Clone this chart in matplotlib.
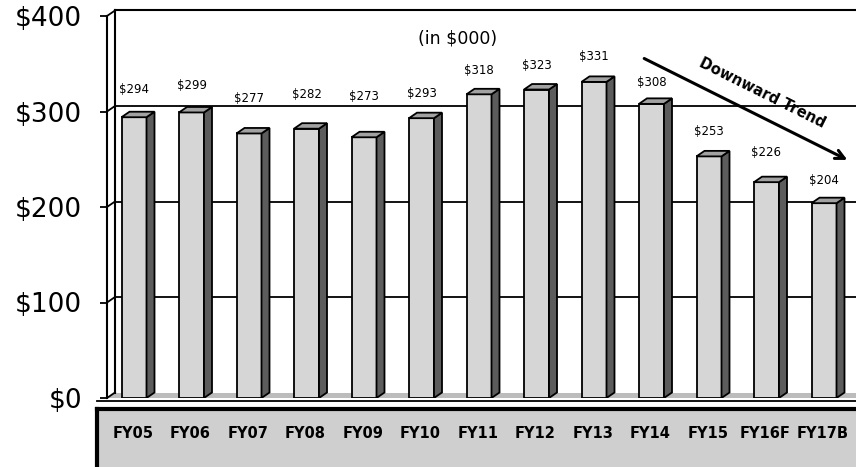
import matplotlib.pyplot as plt
from matplotlib.patches import Polygon, Rectangle

# yearly totals, in $000
years = ['FY05', 'FY06', 'FY07', 'FY08', 'FY09', 'FY10', 'FY11',
         'FY12', 'FY13', 'FY14', 'FY15', 'FY16F', 'FY17B']
totals = [294, 299, 277, 282, 273, 293, 318, 323, 331, 308, 253, 226, 204]
# how far (px) each value label floats above its bar
label_lift = [28, 27, 35, 34, 41, 25, 24, 24, 25, 21, 25, 30, 23]
yticks = [0, 100, 200, 300, 400]

W, H = 856, 467
fig = plt.figure(figsize=(W / 100, H / 100), dpi=100)
ax = fig.add_axes([107 / W, (H - 398) / H, (W - 107) / W, (398 - 16) / H])

px_x = 57.5            # px per category
px_y = 382 / 400       # px per $1k
xmin, xmax = -27 / px_x, (W - 134) / px_x
ax.set_xlim(xmin, xmax)
ax.set_ylim(0, 400)

dx = 8 / px_x          # depth offset of the 3d look
dy = 5.5 / px_y
bw = 25 / px_x

front = '#d6d6d6'
side = '#5c5c5c'
top = '#a2a2a2'

# back wall: top edge, left edge and gridlines
ax.plot([xmin + dx, xmax + 1], [400 + dy] * 2, color='black', lw=1.5, clip_on=False)
ax.plot([xmin + dx] * 2, [dy, 400 + dy], color='black', lw=1.5, clip_on=False)
for t in yticks[1:4]:
    ax.plot([xmin + dx, xmax + 1], [t + dy] * 2, color='black', lw=1.3, clip_on=False, zorder=1)
for t in yticks:
    ax.plot([xmin, xmin + dx], [t, t + dy], color='black', lw=1.3, clip_on=False)

# floor
ax.add_patch(Polygon([(xmin, 0), (xmax + 1, 0), (xmax + 1, dy), (xmin + dx, dy)],
                     closed=True, facecolor='#bcbcbc', edgecolor='none', clip_on=False, zorder=1))
ax.plot([xmin - 10 / px_x, xmax + 1], [-3 / px_y] * 2, color='black', lw=1.3, clip_on=False)

# bars with side and top faces
xs = list(range(len(years)))
ax.bar(xs, totals, width=bw, color=front, edgecolor='black', lw=1.3, zorder=3)
for x, v, lift in zip(xs, totals, label_lift):
    r = x + bw / 2
    l = x - bw / 2
    ax.add_patch(Polygon([(r, 0), (r + dx, dy), (r + dx, v + dy), (r, v)], closed=True,
                         facecolor=side, edgecolor='black', lw=1.3, zorder=3))
    ax.add_patch(Polygon([(l, v), (r, v), (r + dx, v + dy), (l + dx, v + dy)], closed=True,
                         facecolor=top, edgecolor='black', lw=1.3, zorder=3))
    ax.text(x, v + lift / px_y, f'${v}', ha='center', va='center', fontsize=8.5)

# category label box under the floor
box_top = -11 / px_y
ax.add_patch(Rectangle((xmin - 10 / px_x, box_top), xmax - xmin + 2, -100, facecolor='#cfcfcf',
                       edgecolor='none', clip_on=False, zorder=1))
ax.plot([xmin - 10 / px_x, xmax + 1], [box_top] * 2, color='black', lw=3, clip_on=False)
ax.plot([xmin - 10 / px_x] * 2, [box_top, -100], color='black', lw=3, clip_on=False)
for x, name in zip(xs, years):
    ax.text(x - 1 / px_x, box_top - 24 / px_y, name, ha='center', va='center',
            fontsize=10.5, fontweight='bold')

ax.text(5.63, 376.7, '(in $000)', ha='center', va='center', fontsize=12.5)
ax.annotate('', xy=(12.45, 248), xytext=(8.83, 356.8),
            arrowprops=dict(arrowstyle='->', lw=2.2, color='black', mutation_scale=16))
ax.text(10.92, 319, 'Downward Trend', ha='center', va='center', rotation=-26.5,
        fontsize=10.5, fontweight='bold')

for s in ['top', 'right', 'bottom']:
    ax.spines[s].set_visible(False)
ax.spines['left'].set_linewidth(1.5)
ax.set_xticks([])
ax.set_yticks(yticks)
ax.set_yticklabels([f'${t}' for t in yticks], fontsize=19)
ax.tick_params(axis='y', direction='out', length=5, width=1.3, pad=13)

fig.savefig('out.png', dpi=100)
